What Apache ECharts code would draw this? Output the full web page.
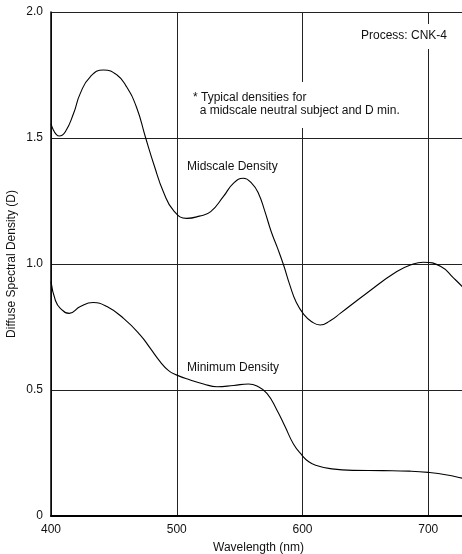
<!DOCTYPE html>
<html>
<head>
<meta charset="utf-8">
<script src="https://cdn.jsdelivr.net/npm/echarts@6/dist/echarts.min.js"></script>
<style>
html,body{margin:0;padding:0;background:#fff;}
#chart{width:462px;height:554px;}
</style>
</head>
<body>
<div id="chart"></div>
<script>
// Wavelength (nm) / density pairs
const midscaleWavelength = [400,406.6,411.4,418,423.3,431.2,441.8,452.5,460,468,475,482,489.5,497.5,508,518,527,537,545,553,560,565,570,575,580,585,590,595,601,607,614,622,630,651,675,688,696,710,720,727,731];
const midscaleDensity    = [1.556,1.508,1.525,1.598,1.677,1.743,1.770,1.750,1.704,1.622,1.505,1.392,1.285,1.212,1.181,1.190,1.208,1.267,1.320,1.340,1.318,1.280,1.210,1.130,1.065,0.995,0.915,0.848,0.800,0.772,0.758,0.775,0.804,0.884,0.970,1.000,1.007,0.990,0.945,0.910,0.885];
const minimumWavelength  = [400,403.4,407.4,414.5,423.3,433.4,444.5,457.7,471,479,486.9,493.5,499.6,510.7,521.3,532,545.2,557,563.8,571.7,579.6,586.2,592.9,599.5,605,611.4,622,640,664,685,700,715,727,731];
const minimumDensity     = [0.930,0.857,0.824,0.804,0.831,0.847,0.831,0.784,0.718,0.665,0.612,0.577,0.560,0.540,0.524,0.513,0.518,0.524,0.516,0.487,0.421,0.354,0.285,0.242,0.215,0.200,0.188,0.181,0.180,0.178,0.173,0.163,0.150,0.146];
const xTicks = [400,500,600,700];
const yTickLabels = {0:'0',0.5:'0.5',1:'1.0',1.5:'1.5',2:'2.0'};

const zip = (xs, ys) => xs.map((x, i) => [x, ys[i]]);
const FONT = 'Liberation Sans, Arial, sans-serif';

const chart = echarts.init(document.getElementById('chart'), null, {renderer: 'canvas'});
chart.setOption({
  backgroundColor: '#fff',
  animation: false,
  grid: {left: 51, top: 12, width: 415, height: 504, containLabel: false, outerBoundsMode: 'none'},
  xAxis: {
    type: 'value', min: 400, max: 730, interval: 100,
    axisLine: {show: true, lineStyle: {color: '#000', width: 2}},
    axisTick: {show: false},
    axisLabel: {color: '#111', fontFamily: FONT, fontSize: 12, margin: 8,
      formatter: v => xTicks.indexOf(v) >= 0 ? String(v) : ''},
    splitLine: {show: true, lineStyle: {color: '#222', width: 1}},
    name: 'Wavelength (nm)', nameLocation: 'middle', nameGap: 26, nameMoveOverlap: false,
    nameTextStyle: {color: '#111', fontFamily: FONT, fontSize: 12}
  },
  yAxis: {
    type: 'value', min: 0, max: 2, interval: 0.5,
    axisLine: {show: true, lineStyle: {color: '#000', width: 1.5}},
    axisTick: {show: false},
    axisLabel: {color: '#111', fontFamily: FONT, fontSize: 12, margin: 8,
      formatter: v => yTickLabels[v] !== undefined ? yTickLabels[v] : ''},
    splitLine: {show: true, lineStyle: {color: '#222', width: 1}},
    name: 'Diffuse Spectral Density (D)', nameLocation: 'middle', nameGap: 33, nameMoveOverlap: false,
    nameTextStyle: {color: '#111', fontFamily: FONT, fontSize: 12}
  },
  series: [
    {type: 'line', name: 'Midscale Density', data: zip(midscaleWavelength, midscaleDensity),
     smooth: 0.5, symbol: 'none', lineStyle: {color: '#000', width: 1.1}, z: 3},
    {type: 'line', name: 'Minimum Density', data: zip(minimumWavelength, minimumDensity),
     smooth: 0.5, symbol: 'none', lineStyle: {color: '#000', width: 1.1}, z: 3}
  ],
  graphic: [
    {type: 'text', left: 357, top: 24, z: 10,
     style: {text: 'Process: CNK-4', font: '12px ' + FONT, fill: '#111',
       backgroundColor: '#fff', padding: [6, 4, 7, 4]}},
    {type: 'text', left: 190, top: 82, z: 10,
     style: {text: '* Typical densities for\n  a midscale neutral subject and D min.', font: '12px ' + FONT,
       fill: '#111', lineHeight: 13, backgroundColor: '#fff', padding: [9, 4, 11, 3]}},
    {type: 'text', left: 187, top: 161, z: 10,
     style: {text: 'Midscale Density', font: '12px ' + FONT, fill: '#111'}},
    {type: 'text', left: 187, top: 362, z: 10,
     style: {text: 'Minimum Density', font: '12px ' + FONT, fill: '#111'}}
  ]
});
</script>
</body>
</html>
